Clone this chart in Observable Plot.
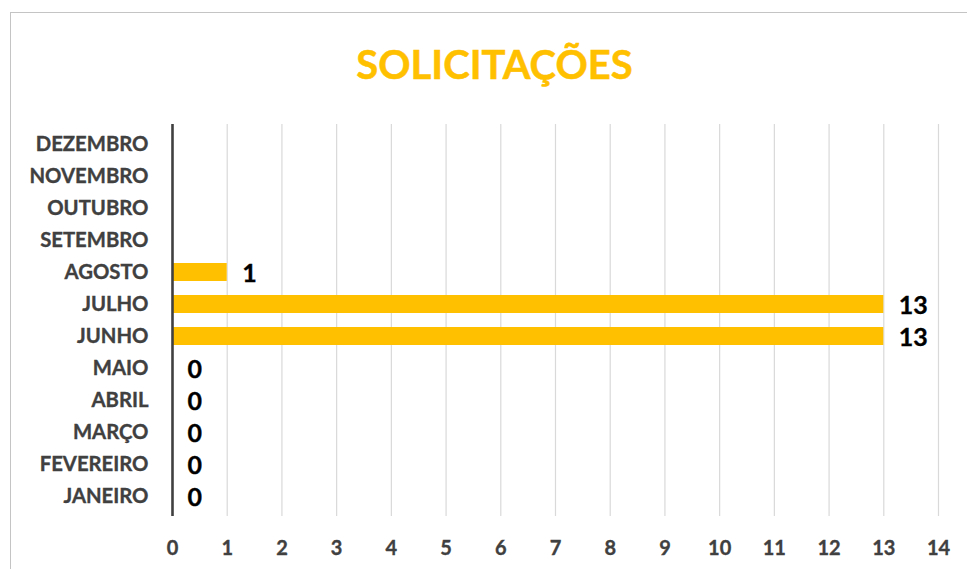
<!DOCTYPE html>
<html>
<head>
<meta charset="utf-8">
<script src="https://cdn.jsdelivr.net/npm/d3@7"></script>
<script src="https://cdn.jsdelivr.net/npm/@observablehq/plot@0.6"></script>
<style>
  html, body { margin: 0; padding: 0; background: #fff; }
  #wrap { position: relative; width: 967px; height: 569px; overflow: hidden; background: #fff; }
  #frame { position: absolute; left: 10px; top: 12px; width: 968px; height: 600px; border: 1.3px solid #c4c4c4; box-sizing: border-box; }
  #title { position: absolute; left: 494.5px; top: 44px; transform: translateX(-50%); white-space: nowrap;
           font-family: Lato, "Open Sans", sans-serif; font-weight: 700; font-size: 40px; line-height: 1; color: #FFC000;
           -webkit-text-stroke: 0.5px #FFC000; }
  #chart { position: absolute; left: 0; top: 0; }
  #chart svg g[aria-label="y-axis tick label"] text,
  #chart svg g[aria-label="x-axis tick label"] text { stroke: #404040; stroke-width: 0.35px; }
  #chart svg g[aria-label="text"] text { stroke: #000; stroke-width: 0.35px; }
</style>
</head>
<body>
<div id="wrap">
  <div id="frame"></div>
  <div id="title">SOLICITAÇÕES</div>
  <div id="chart"></div>
</div>
<script>
const title = "SOLICITAÇÕES";
const months = ["JANEIRO", "FEVEREIRO", "MARÇO", "ABRIL", "MAIO", "JUNHO", "JULHO", "AGOSTO", "SETEMBRO", "OUTUBRO", "NOVEMBRO", "DEZEMBRO"];
const values = [0, 0, 0, 0, 0, 13, 13, 1, null, null, null, null];
const xTicks = [0, 1, 2, 3, 4, 5, 6, 7, 8, 9, 10, 11, 12, 13, 14];

document.getElementById("title").textContent = title;

const data = months.map((m, i) => ({month: m, value: values[i]})).filter(d => d.value != null);

const chart = Plot.plot({
  width: 967,
  height: 569,
  marginLeft: 172,
  marginRight: 29,
  marginTop: 124,
  marginBottom: 53,
  style: {fontFamily: "Lato, 'Open Sans', sans-serif", fontWeight: "bold", color: "#404040", background: "transparent"},
  x: {domain: [0, 14]},
  y: {domain: months.slice().reverse(), paddingInner: 0.44, paddingOuter: 0.22},
  marks: [
    Plot.gridX(xTicks, {stroke: "#d9d9d9", strokeOpacity: 1, strokeWidth: 1.2}),
    Plot.barX(data, {x: "value", y: "month", fill: "#FFC000"}),
    Plot.ruleX([0], {stroke: "#404040", strokeWidth: 2.6}),
    Plot.text(data, {x: "value", y: "month", text: d => String(d.value), textAnchor: "start", dx: 15, dy: 1,
      fill: "#000", fontSize: 25, fontWeight: "bold"}),
    Plot.axisX({ticks: xTicks, tickSize: 0, tickPadding: 24, fontSize: 20, fill: "#404040", label: null, tickFormat: d => String(d)}),
    Plot.axisY({tickSize: 0, tickPadding: 24, fontSize: 20.3, dy: -0.5, fill: "#404040", label: null})
  ]
});
document.getElementById("chart").appendChild(chart);
</script>
</body>
</html>
